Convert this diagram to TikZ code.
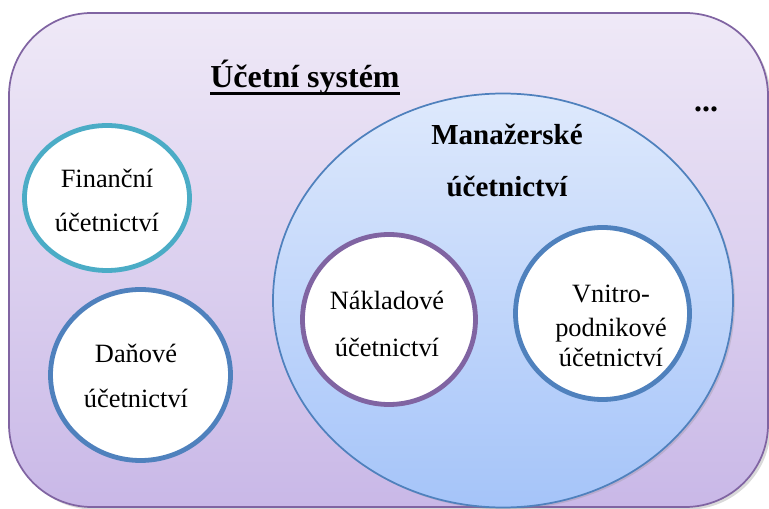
\documentclass[tikz,border=0pt]{standalone}
\usepackage{fontspec}
\setmainfont{Liberation Serif}
\usetikzlibrary{shapes.geometric,shadows}

\definecolor{framepurple}{RGB}{128,100,162}
\definecolor{frametop}{RGB}{239,233,247}
\definecolor{framebottom}{RGB}{201,184,231}
\definecolor{ringteal}{RGB}{75,172,198}
\definecolor{ringblue}{RGB}{79,129,189}
\definecolor{mgmttop}{RGB}{222,233,252}
\definecolor{mgmtbottom}{RGB}{165,196,249}

\begin{document}
\begin{tikzpicture}[x=0.75pt,y=-0.75pt,
  txt/.style={anchor=base,inner sep=0pt,font=\fontsize{19.8}{23}\selectfont},
  headtxt/.style={anchor=base,inner sep=0pt,font=\fontsize{21.75}{26}\selectfont\bfseries},
  ring/.style={ellipse,fill=white,line width=3.6pt,inner sep=0pt},
]
\useasboundingbox (0,0) rectangle (769,509);

% outer frame: the whole accounting system
\node[draw=framepurple,line width=1.3pt,rounded corners=62pt,
      top color=frametop,bottom color=framebottom,
      drop shadow={shadow xshift=2pt,shadow yshift=-2pt,opacity=0.3},
      minimum width=569.25pt,minimum height=370.5pt,inner sep=0pt]
  (frame) at (388.5,260) {};

\node[anchor=base,inner sep=0pt,font=\fontsize{24}{28}\selectfont\bfseries]
  (title) at (305,88) {Účetní systém};
\draw[line width=2.6pt] ([yshift=-4pt]title.base west) -- ([yshift=-4pt]title.base east);

\node[anchor=base,inner sep=0pt,font=\fontsize{24}{28}\selectfont\bfseries]
  (more) at (706,112) {...};

% financial and tax accounting
\node[ring,draw=ringteal,minimum width=123.75pt,minimum height=108.75pt] (fin) at (107,198) {};
\node[txt] (fin1) at (107,188) {Finanční};
\node[txt] (fin2) at (107,232) {účetnictví};

\node[ring,draw=ringblue,minimum width=135pt,minimum height=128.25pt] (dan) at (140.5,375) {};
\node[txt] (dan1) at (136,363) {Daňové};
\node[txt] (dan2) at (136,408) {účetnictví};

% management accounting with its two parts
\node[ellipse,draw=ringblue,line width=1.3pt,top color=mgmttop,bottom color=mgmtbottom,
      drop shadow={shadow xshift=1.5pt,shadow yshift=-1.5pt,opacity=0.25},
      minimum width=345pt,minimum height=310.5pt,inner sep=0pt] (mgmt) at (503,300.5) {};
\node[headtxt] (mgmt1) at (507,145) {Manažerské};
\node[headtxt] (mgmt2) at (507,197) {účetnictví};

\node[ring,draw=framepurple,minimum width=129.75pt,minimum height=127.5pt] (nak) at (389,319.5) {};
\node[txt] (nak1) at (387,310) {Nákladové};
\node[txt] (nak2) at (387,357) {účetnictví};

\node[ring,draw=ringblue,minimum width=130.5pt,minimum height=129pt] (vni) at (602.5,313.5) {};
\node[txt] (vni1) at (611,303) {Vnitro-};
\node[txt] (vni2) at (611,337) {podnikové};
\node[txt] (vni3) at (611,367) {účetnictví};
\end{tikzpicture}
\end{document}
